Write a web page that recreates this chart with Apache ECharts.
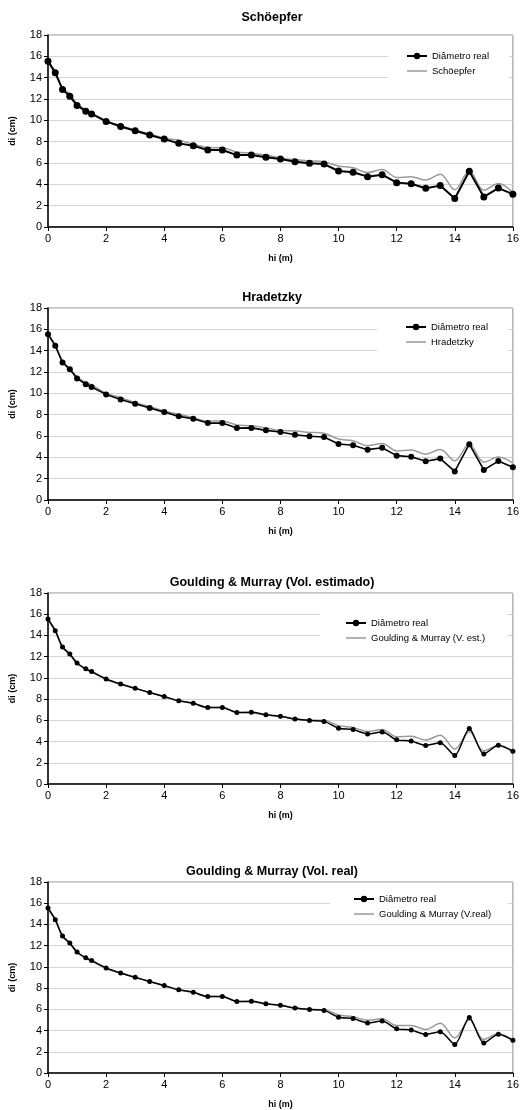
<!DOCTYPE html>
<html>
<head>
<meta charset="utf-8">
<script src="https://cdn.jsdelivr.net/npm/echarts@6/dist/echarts.min.js"></script>
<style>
  html, body { margin: 0; padding: 0; background: #fff; }
  #chart { width: 522px; height: 1110px; }
</style>
</head>
<body>
<div id="chart"></div>
<script>
// hi (m)
var hi = [0, 0.25, 0.5, 0.75, 1, 1.3, 1.5, 2, 2.5, 3, 3.5, 4, 4.5, 5, 5.5, 6, 6.5, 7, 7.5,
  8, 8.5, 9, 9.5, 10, 10.5, 11, 11.5, 12, 12.5, 13, 13.5, 14, 14.5, 15, 15.5, 16];

// di (cm) measured
var diamReal = [15.55, 14.45, 12.9, 12.25, 11.4, 10.85, 10.6, 9.9, 9.42, 9.02, 8.63, 8.24, 7.84, 7.62, 7.21, 7.22, 6.74, 6.76, 6.53,
  6.38, 6.12, 5.98, 5.9, 5.25, 5.13, 4.72, 4.9, 4.16, 4.05, 3.64, 3.88, 2.68, 5.23, 2.82, 3.65, 3.08];

var schoepfer = [15.5, 14.6, 13.0, 12.5, 11.55, 11.0, 10.7, 9.95, 9.5, 9.1, 8.75, 8.32, 8.15, 7.75, 7.45, 7.42, 7.03, 6.92, 6.75,
  6.47, 6.3, 6.2, 6.1, 5.72, 5.56, 5.1, 5.38, 4.65, 4.7, 4.4, 4.95, 3.5, 5.27, 3.45, 4.07, 3.22];

var hradetzky = [15.6, 14.55, 12.97, 12.34, 11.56, 11.0, 10.8, 10.0, 9.6, 9.12, 8.75, 8.34, 8.03, 7.72, 7.4, 7.4, 7.03, 6.97, 6.75,
  6.53, 6.47, 6.34, 6.25, 5.71, 5.56, 5.09, 5.3, 4.6, 4.68, 4.3, 4.74, 3.67, 5.24, 3.55, 4.02, 3.45];

var gmEstimado = [15.5, 14.4, 12.85, 12.2, 11.35, 10.8, 10.55, 9.85, 9.4, 9.0, 8.6, 8.2, 7.82, 7.58, 7.2, 7.2, 6.75, 6.72, 6.5,
  6.38, 6.15, 6.02, 6.0, 5.5, 5.33, 4.95, 5.14, 4.45, 4.5, 4.14, 4.6, 3.29, 4.92, 3.13, 3.64, 3.1];

var gmReal = [15.5, 14.4, 12.85, 12.2, 11.35, 10.8, 10.55, 9.85, 9.4, 9.0, 8.6, 8.2, 7.82, 7.58, 7.2, 7.2, 6.75, 6.72, 6.5,
  6.38, 6.13, 6.0, 5.97, 5.47, 5.3, 4.97, 5.12, 4.47, 4.47, 4.1, 4.69, 3.31, 5.0, 3.16, 3.69, 3.12];

var titles = ['Schöepfer', 'Hradetzky', 'Goulding & Murray (Vol. estimado)', 'Goulding & Murray (Vol. real)'];
var modelNames = ['Schöepfer', 'Hradetzky', 'Goulding & Murray (V. est.)', 'Goulding & Murray (V.real)'];
var modelValues = [schoepfer, hradetzky, gmEstimado, gmReal];

var FONT = 'Liberation Sans, Arial, sans-serif';
var gridTop = [35, 308, 593, 882];
var gridH = [192, 192, 191, 191];
var titleTop = [6, 286, 571, 860];
var legendLeft = [388, 377, 320, 330];
var legendTop = [46, 317, 613, 889];
var legendPad = [[5, 20, 5, 18], [5, 20, 5, 28], [5, 22, 5, 25], [5, 17, 5, 23]];
var realSymbol = [7, 6, 5, 5];
var realWidth = [2, 1.6, 1.5, 1.5];
var realSmooth = [false, false, 0.25, 0.25];

// plain thin line for the model legend entry
var LINE_ICON = 'path://M0,0 L20,0 L20,1.5 L0,1.5 Z';

function pairs(xs, ys) {
    return xs.map(function (x, i) { return [x, ys[i]]; });
}

var option = {
    backgroundColor: '#fff',
    animation: false,
    textStyle: { fontFamily: FONT },
    title: [], grid: [], xAxis: [], yAxis: [], legend: [], series: []
};

for (var k = 0; k < 4; k++) {
    option.title.push({
        text: titles[k], left: 267, top: titleTop[k], textAlign: 'center',
        textStyle: { fontFamily: FONT, fontSize: 12.5, fontWeight: 'bold', color: '#000' }
    });
    option.grid.push({
        left: 47, width: 469, top: gridTop[k], height: gridH[k],
        show: true, borderColor: '#8c8c8c', borderWidth: 1
    });
    option.xAxis.push({
        gridIndex: k, type: 'value', min: 0, max: 16, interval: 2,
        name: 'hi (m)', nameLocation: 'middle', nameGap: 27,
        nameTextStyle: { fontFamily: FONT, fontSize: 9, fontWeight: 'bold', color: '#000' },
        axisLine: { show: true, onZero: false, lineStyle: { color: '#000', width: 1.5 } },
        axisTick: { show: true, length: 4, lineStyle: { color: '#000' } },
        axisLabel: { fontFamily: FONT, fontSize: 11, color: '#000', margin: 6 },
        splitLine: { show: false }
    });
    option.yAxis.push({
        gridIndex: k, type: 'value', min: 0, max: 18, interval: 2,
        name: 'di (cm)', nameLocation: 'middle', nameGap: 31, nameRotate: 90,
        nameTextStyle: { fontFamily: FONT, fontSize: 9, fontWeight: 'bold', color: '#000' },
        axisLine: { show: true, onZero: false, lineStyle: { color: '#000', width: 1.5 } },
        axisTick: { show: true, length: 4, lineStyle: { color: '#000' } },
        axisLabel: { fontFamily: FONT, fontSize: 11, color: '#000', margin: 6 },
        splitLine: { show: true, lineStyle: { color: '#d4d4d4', width: 1 } }
    });
    option.legend.push({
        orient: 'vertical', left: legendLeft[k], top: legendTop[k],
        padding: legendPad[k], backgroundColor: '#fff',
        itemWidth: 20, itemHeight: 8, itemGap: 5,
        textStyle: { fontFamily: FONT, fontSize: 9.5, color: '#000' },
        data: ['Diâmetro real', { name: modelNames[k], icon: LINE_ICON }]
    });
    option.series.push({
        name: 'Diâmetro real', type: 'line', xAxisIndex: k, yAxisIndex: k,
        data: pairs(hi, diamReal), smooth: realSmooth[k],
        symbol: 'circle', symbolSize: realSymbol[k], z: 3,
        lineStyle: { color: '#000', width: realWidth[k] },
        itemStyle: { color: '#000' }
    });
    option.series.push({
        name: modelNames[k], type: 'line', xAxisIndex: k, yAxisIndex: k,
        data: pairs(hi, modelValues[k]), smooth: 0.35,
        symbol: 'none', z: 2,
        lineStyle: { color: '#9a9a9a', width: 1.5 },
        itemStyle: { color: '#9a9a9a' }
    });
}

var chart = echarts.init(document.getElementById('chart'));
chart.setOption(option);
window.onresize = chart.resize;
</script>
</body>
</html>
